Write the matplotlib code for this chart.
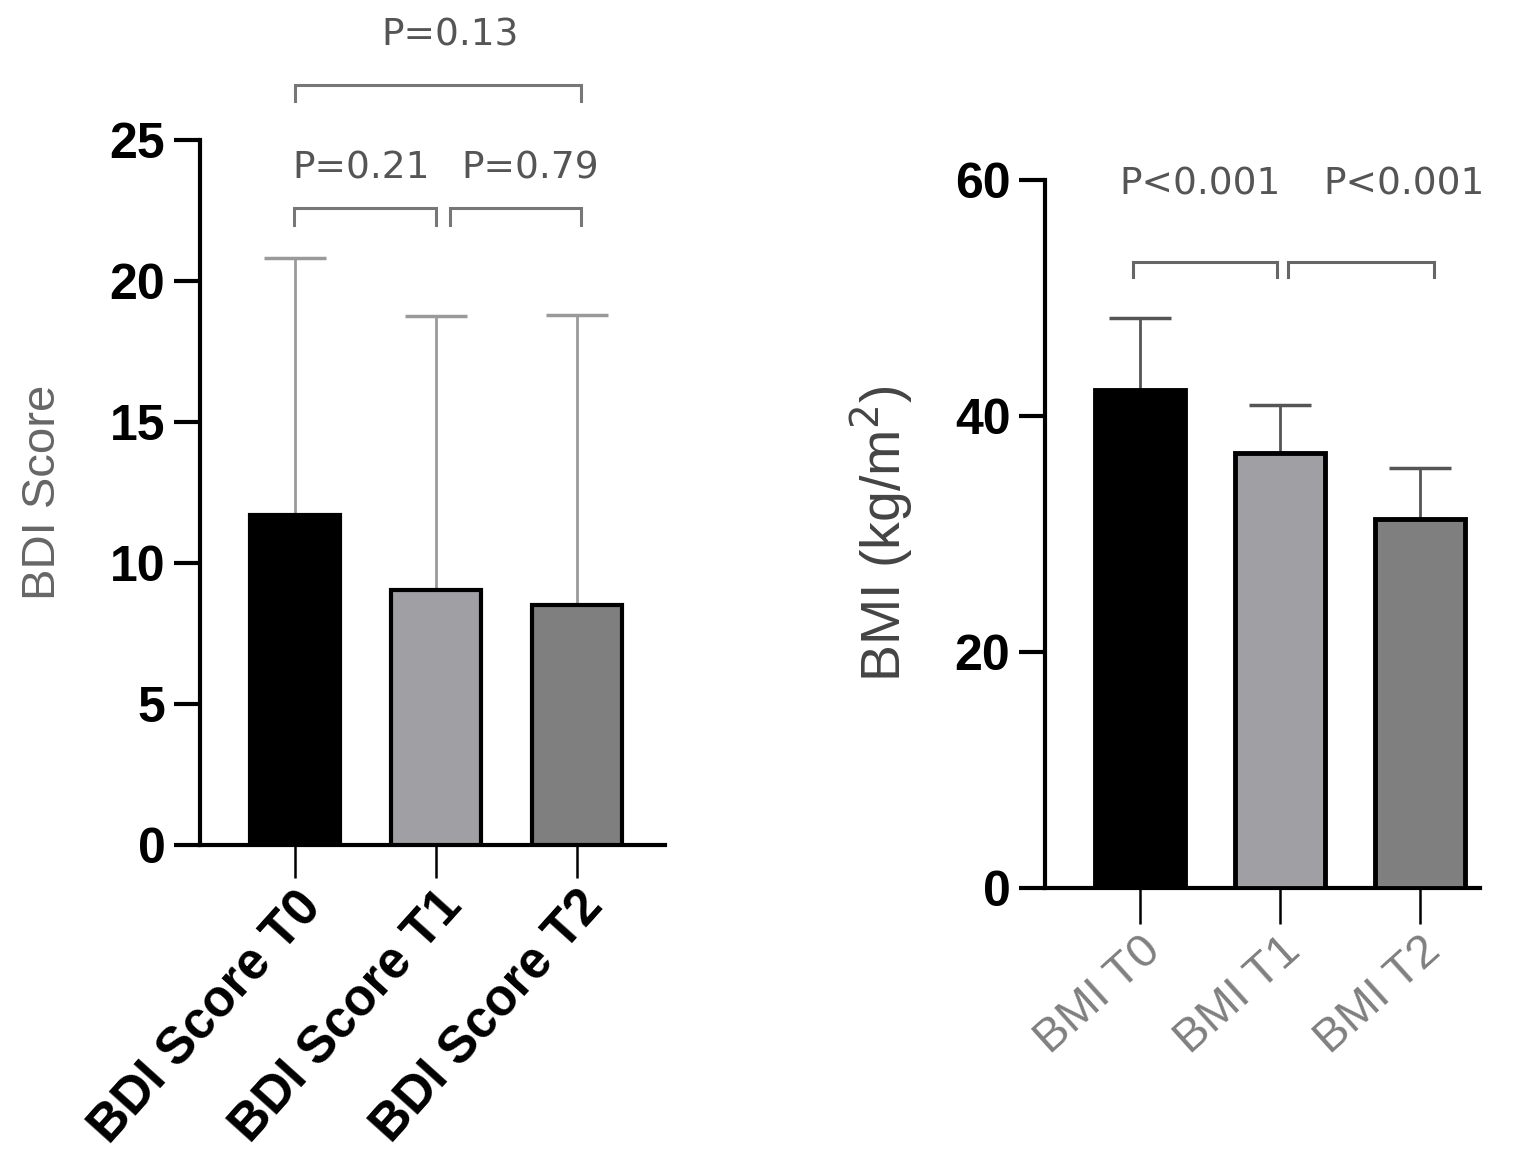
import matplotlib
matplotlib.use("Agg")
import matplotlib.pyplot as plt

# ---- data ----
bdi_labels = ["BDI Score T0", "BDI Score T1", "BDI Score T2"]
bdi_means = [11.7, 9.05, 8.5]
bdi_sd = [9.1, 9.7, 10.3]
bdi_pvals = ["P=0.21", "P=0.79", "P=0.13"]

bmi_labels = ["BMI T0", "BMI T1", "BMI T2"]
bmi_means = [42.2, 36.9, 31.3]
bmi_sd = [6.1, 4.0, 4.3]
bmi_pvals = ["P<0.001", "P<0.001"]

bar_colors = ["#000000", "#a0a0a4", "#7f7f7f"]

fig = plt.figure(figsize=(15.36, 11.73), dpi=100)
fig.patch.set_facecolor("white")

FONT = "Liberation Sans"
PCOL = "#555555"


def style_axes(ax, xlen):
    for s in ["top", "right"]:
        ax.spines[s].set_visible(False)
    for s in ["left", "bottom"]:
        ax.spines[s].set_linewidth(3.0)
    ax.tick_params(axis="y", length=19, width=3, direction="out", pad=6)
    ax.tick_params(axis="x", length=xlen, width=1.8, direction="out", pad=3)


def bracket(ax, x1, x2, y, drop, color="#777777", lw=2.2):
    ax.plot([x1, x1, x2, x2], [y - drop, y, y, y - drop], color=color, lw=lw,
            clip_on=False, solid_joinstyle="miter")


# ---- left panel ----
ax1 = fig.add_axes([200 / 1536, 1 - 845 / 1173, 465 / 1536, 705 / 1173])
x = range(len(bdi_means))
ax1.bar(x, bdi_means, width=0.64, color=bar_colors, edgecolor="black",
        linewidth=3.0, zorder=3)
ax1.errorbar(x, bdi_means, yerr=[[0] * 3, bdi_sd], fmt="none", ecolor="#9a9a9a",
             elinewidth=2.0, capsize=22, capthick=2.5, zorder=2)
ax1.set_xlim(-0.674, 2.624)
ax1.set_ylim(0, 25)
ax1.set_yticks([0, 5, 10, 15, 20, 25])
ax1.set_yticklabels(["0", "5", "10", "15", "20", "25"], fontsize=36,
                    fontweight="bold", family=FONT)
ax1.set_xticks(list(x))
ax1.set_xticklabels(bdi_labels, rotation=48, ha="right", rotation_mode="anchor",
                    fontsize=37, fontweight="bold", family=FONT)
ax1.set_ylabel("BDI Score", fontsize=34, color="#666666", family=FONT, labelpad=32)
style_axes(ax1, 24)

bracket(ax1, -0.01, 1.0, 22.6, 0.6)
bracket(ax1, 1.1, 2.03, 22.6, 0.6)
bracket(ax1, 0.0, 2.03, 26.95, 0.55)
ax1.text(0.47, 24.0, bdi_pvals[0], ha="center", va="center", fontsize=27,
         color=PCOL, family="DejaVu Sans", clip_on=False)
ax1.text(1.67, 24.0, bdi_pvals[1], ha="center", va="center", fontsize=27,
         color=PCOL, family="DejaVu Sans", clip_on=False)
ax1.text(1.1, 28.7, bdi_pvals[2], ha="center", va="center", fontsize=27,
         color=PCOL, family="DejaVu Sans", clip_on=False)

# ---- right panel ----
ax2 = fig.add_axes([1045 / 1536, 1 - 888 / 1173, 435 / 1536, 708 / 1173])
ax2.bar(x, bmi_means, width=0.64, color=bar_colors, edgecolor="black",
        linewidth=3.5, zorder=3)
ax2.errorbar(x, bmi_means, yerr=[[0] * 3, bmi_sd], fmt="none", ecolor="#555555",
             elinewidth=2.0, capsize=22, capthick=2.5, zorder=2)
ax2.set_xlim(-0.68, 2.43)
ax2.set_ylim(0, 60)
ax2.set_yticks([0, 20, 40, 60])
ax2.set_yticklabels(["0", "20", "40", "60"], fontsize=36, fontweight="bold",
                    family=FONT)
ax2.set_xticks(list(x))
ax2.set_xticklabels(bmi_labels, rotation=42, ha="right", rotation_mode="anchor",
                    fontsize=34, color="#808080", family=FONT)
ax2.set_ylabel("BMI (kg/m$^2$)", fontsize=40, color="#444444", family=FONT,
               labelpad=28)
style_axes(ax2, 26)

bracket(ax2, -0.05, 0.98, 53.05, 1.3, color="#666666")
bracket(ax2, 1.06, 2.1, 53.05, 1.3, color="#666666")
ax2.text(0.43, 59.6, bmi_pvals[0], ha="center", va="center", fontsize=27,
         color=PCOL, family="DejaVu Sans", clip_on=False)
ax2.text(1.89, 59.6, bmi_pvals[1], ha="center", va="center", fontsize=27,
         color=PCOL, family="DejaVu Sans", clip_on=False)

fig.savefig("out.png", dpi=100, facecolor="white")
